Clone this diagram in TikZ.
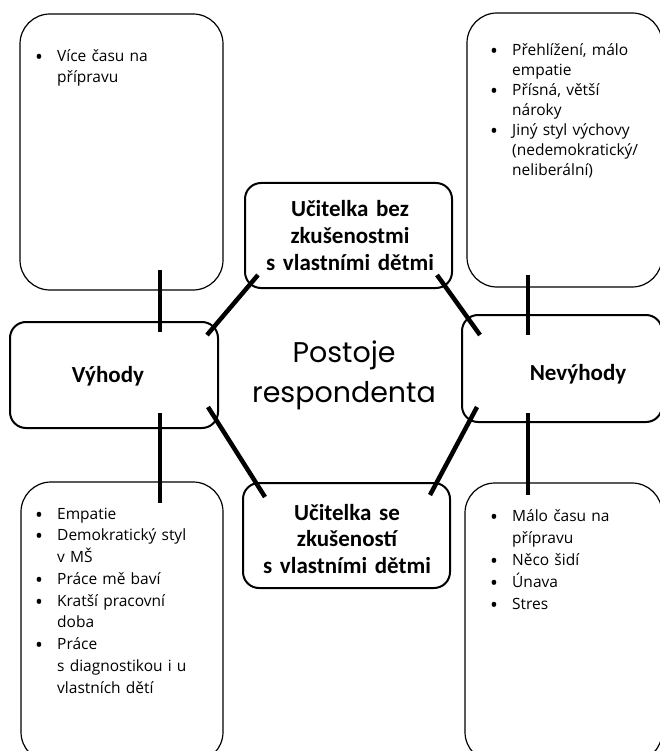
\documentclass[tikz,border=0pt]{standalone}
\usepackage{fontspec}
\setmainfont{Open Sans}
\newfontfamily\labfont{Carlito}
\newfontfamily\centfont{Poppins}
\newcommand{\bitem}[1]{\noindent\hangindent=22pt\hangafter=1\makebox[22pt][l]{\raisebox{-3pt}{\fontsize{21}{21}\selectfont •}}#1\par}
\begin{document}
\begin{tikzpicture}[x=1pt,y=-1pt,
  outerbox/.style={draw, line width=1.2pt, rounded corners=30pt, inner sep=0pt},
  labbox/.style={draw, line width=2pt, rounded corners=16pt, inner sep=0pt},
  labtext/.style={anchor=base, inner sep=0pt, text width=220pt, align=center,
    font=\labfont\bfseries\fontsize{23}{27}\selectfont},
  blist/.style={anchor=base west, inner sep=0pt, text width=200pt,
    font=\fontsize{15.5}{21}\selectfont},
  conn/.style={line width=4.5pt}]
\useasboundingbox (0,0) rectangle (660,751);
\clip (0,0) rectangle (660,751);

% outer list boxes
\node[outerbox, minimum width=203pt, minimum height=276pt] (tl) at (121.5,152) {};
\node[outerbox, minimum width=195pt, minimum height=274pt] (tr) at (564.5,150) {};
\node[outerbox, minimum width=202pt, minimum height=280pt] (bl) at (122,622) {};
\node[outerbox, minimum width=197pt, minimum height=279pt] (br) at (563.5,622.5) {};

% label boxes
\node[labbox, minimum width=208pt, minimum height=106pt] (vy) at (114,375) {};
\node[labbox, minimum width=200pt, minimum height=107pt] (ne) at (562,368.5) {};
\node[labbox, minimum width=207pt, minimum height=105pt] (tc) at (348.5,235.5) {};
\node[labbox, minimum width=207pt, minimum height=105pt] (bc) at (346.5,535.5) {};

% label texts
\node[labtext] (vytext) at (108,382) {Výhody};
\node[labtext] (netext) at (578,380) {Nevýhody};
\node[labtext] (tctext) at (350,217) {Učitelka bez\\zkušenostmi\\s vlastními dětmi};
\node[labtext, font=\labfont\bfseries\fontsize{23}{26.5}\selectfont] (bctext) at (347,520) {Učitelka se\\zkušeností\\s vlastními dětmi};

% centre
\node[anchor=base, inner sep=0pt, text width=260pt, align=center,
  font=\centfont\fontsize{28.5}{40}\selectfont] (centre) at (344,362) {Postoje\\respondenta};

% bullet lists
\node[blist] (tllist) at (35,62) {\raggedright
  \bitem{Více času na\newline přípravu}};
\node[blist] (trlist) at (490,56) {\raggedright\fontsize{15.5}{20}\selectfont
  \bitem{Přehlížení, málo\newline empatie}
  \bitem{Přísná, větší\newline nároky}
  \bitem{Jiný styl výchovy\newline (nedemokratický/\newline neliberální)}};
\node[blist] (bllist) at (35,519) {\raggedright\fontsize{15.5}{21.75}\selectfont
  \bitem{Empatie}
  \bitem{Demokratický styl\newline v MŠ}
  \bitem{Práce mě baví}
  \bitem{Kratší pracovní\newline doba}
  \bitem{Práce\newline s diagnostikou i u\newline vlastních dětí}};
\node[blist] (brlist) at (490,521) {\raggedright\fontsize{15.5}{22}\selectfont
  \bitem{Málo času na\newline přípravu}
  \bitem{Něco šidí}
  \bitem{Únava}
  \bitem{Stres}};

% connector end points
\coordinate (c1a) at (160,270); \coordinate (c1b) at (160,332);
\coordinate (c2a) at (160,413); \coordinate (c2b) at (160,503);
\coordinate (c3a) at (528,275); \coordinate (c3b) at (528,335);
\coordinate (c4a) at (528,413); \coordinate (c4b) at (528,495);
\coordinate (d1a) at (207,335); \coordinate (d1b) at (258,275);
\coordinate (d2a) at (437,275); \coordinate (d2b) at (480,335);
\coordinate (d3a) at (208,407); \coordinate (d3b) at (265,497);
\coordinate (d4a) at (477,407); \coordinate (d4b) at (430,495);

\draw[conn] (c1a) -- (c1b);
\draw[conn] (c2a) -- (c2b);
\draw[conn] (c3a) -- (c3b);
\draw[conn] (c4a) -- (c4b);
\draw[conn] (d1a) -- (d1b);
\draw[conn] (d2a) -- (d2b);
\draw[conn] (d3a) -- (d3b);
\draw[conn] (d4a) -- (d4b);
\end{tikzpicture}
\end{document}
